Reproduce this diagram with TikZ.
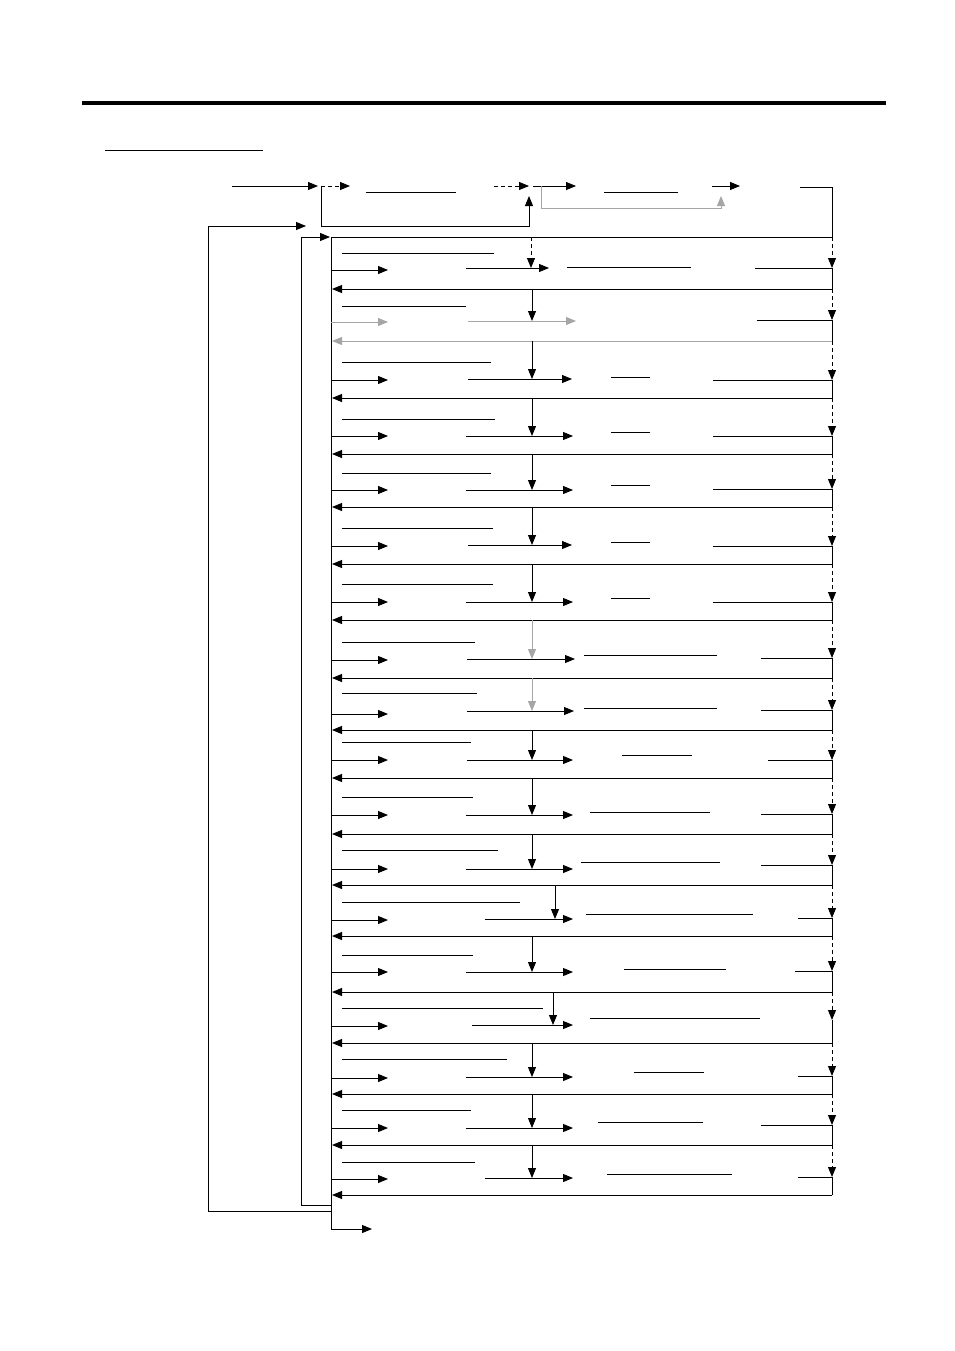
\documentclass[tikz,border=0pt]{standalone}
\usetikzlibrary{arrows.meta}
\tikzset{Flow Arrow/.style = {-{Triangle[length = 10pt, width = 8pt]}},
  Jump Line/.style = {dash pattern = on 4pt off 3pt},
  Faint Line/.style = {gray!70}}

\begin{document}
\begin{tikzpicture}[x = 1pt, y = -1pt, line width = 0.9pt]
  \useasboundingbox (0, 0) rectangle (954, 1351);

  % page rule and title
  \draw[line width = 4pt] (82, 103) -- (886, 103);
  \draw (105, 150) -- (263, 150);

  % head of the chart
  \coordinate (S0) at (232, 186);
  \coordinate (S1) at (321, 186);
  \coordinate (S2) at (529, 186);
  \coordinate (S3) at (541, 186);
  \coordinate (S4) at (721, 186);
  \coordinate (R0) at (832, 187);
  \coordinate (T0) at (832, 237);

  \draw[Flow Arrow] (S0) -- (318, 186);
  \draw[Flow Arrow, Jump Line] (S1) -- (350, 186);
  \draw (366, 192) -- (456, 192);
  \draw[Flow Arrow, Jump Line] (494, 186) -- (S2);
  \draw[Flow Arrow] (533, 186) -- (576, 186);
  \draw (604, 192) -- (678, 192);
  \draw[Flow Arrow] (712, 186) -- (740, 186);
  \draw (800, 187) -- (R0) -- (T0);

  \draw[Flow Arrow] (S1) -- (321, 226) -- (529, 226) -- (529, 196);
  \draw[Flow Arrow, Faint Line] (S3) -- (541, 208) -- (721, 208) -- (721, 196);

  % loops back on the left
  \draw[Flow Arrow] (331, 1211) -- (208, 1211) -- (208, 226) -- (306, 226);
  \draw[Flow Arrow] (331, 1205) -- (301, 1205) -- (301, 237) -- (330, 237);
  \draw (331, 237) -- (T0);
  \draw[Flow Arrow] (331, 237) -- (331, 1229) -- (372, 1229);

  % one block for each step
  \foreach \yt/\yu/\ue/\ya/\ms/\me/\ym/\vx/\ry/\rs/\re/\rl/\yr/\yb/\vs/\cl in {
    237/253/494/270/466/549/268/531/267/567/691/755/268/289/Jump Line/black,
    289/306/466/322/468/576/321/532/0/0/0/757/320/341/solid/gray!70,
    341/362/491/380/468/572/379/532/377/611/650/713/380/398/solid/black,
    398/419/495/436/466/573/436/532/432/611/650/713/436/454/solid/black,
    454/473/491/490/466/573/490/532/485/611/650/713/489/507/solid/black,
    507/528/493/546/468/572/545/532/542/611/650/713/546/564/solid/black,
    564/584/493/602/466/573/602/532/598/611/650/713/602/620/solid/black,
    620/642/475/660/467/575/659/532/655/584/717/761/658/678/Faint Line/black,
    678/693/477/714/467/574/711/532/708/584/717/761/710/730/Faint Line/black,
    730/742/471/760/467/573/760/532/755/622/692/768/760/778/solid/black,
    778/797/473/815/466/573/815/532/812/590/710/761/814/834/solid/black,
    834/850/498/869/466/573/869/532/862/581/720/761/865/885/solid/black,
    885/902/520/920/485/573/919/555/914/586/753/798/918/936/solid/black,
    936/955/473/972/466/573/972/532/969/624/726/795/971/992/solid/black,
    992/1008/543/1026/472/573/1025/553/1018/590/760/0/1020/1043/solid/black,
    1043/1059/507/1078/466/573/1077/532/1072/634/704/798/1076/1094/solid/black,
    1094/1110/471/1128/466/573/1128/532/1122/598/703/761/1125/1145/solid/black,
    1145/1162/475/1179/485/573/1178/532/1174/607/732/798/1177/1195/solid/black}
  {
    \coordinate (Top) at (\vx, \yt);
    \coordinate (Mid) at (\vx, \ym);
    \coordinate (In) at (832, \yt);
    \coordinate (Out) at (832, \yr);
    \coordinate (Back) at (832, \yb);

    \draw (342, \yu) -- (\ue, \yu);
    \draw[Flow Arrow, \cl] (331, \ya) -- (388, \ya);
    \draw[Flow Arrow, \cl] (\ms, \ym) -- (\me, \ym);
    \draw[Flow Arrow, \vs] (Top) -- (Mid);
    \ifnum\rs>0 \draw (\rs, \ry) -- (\re, \ry); \fi
    \ifnum\rl>0 \draw (\rl, \yr) -- (Out); \fi
    \draw[Flow Arrow, Jump Line] (In) -- (Out);
    \draw (Out) -- (Back);
    \draw[Flow Arrow, \cl] (Back) -- (332, \yb);
  }
\end{tikzpicture}
\end{document}
